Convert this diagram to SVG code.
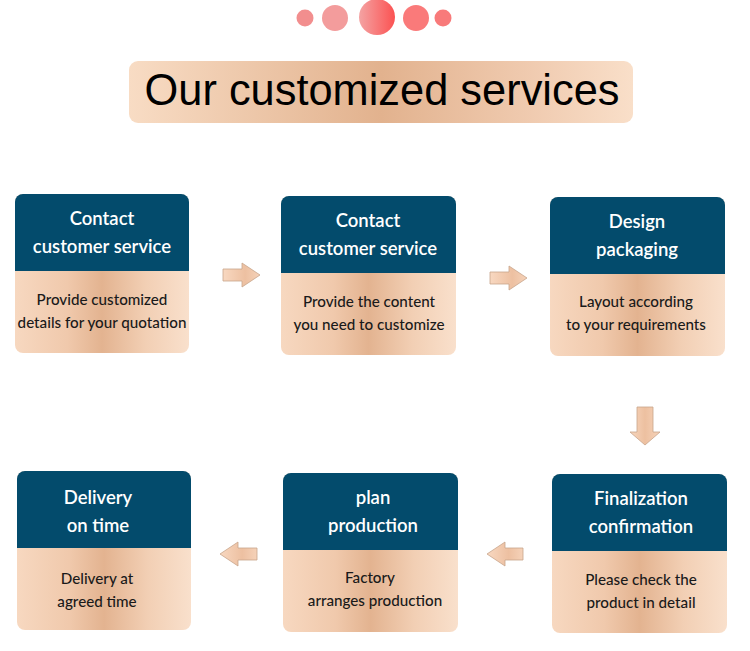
<svg xmlns="http://www.w3.org/2000/svg" width="750" height="651" viewBox="0 0 750 651">
<defs>
<linearGradient id="peach" x1="0" y1="0" x2="1" y2="0">
<stop offset="0" stop-color="#f7d8c0"/>
<stop offset="0.3" stop-color="#f0c9ac"/>
<stop offset="0.5" stop-color="#e3b390"/>
<stop offset="0.75" stop-color="#f2cfb4"/>
<stop offset="1" stop-color="#f9e0cc"/>
</linearGradient>
<linearGradient id="titleg" x1="0" y1="0" x2="1" y2="0">
<stop offset="0" stop-color="#f8dcc4"/>
<stop offset="0.5" stop-color="#e2b28e"/>
<stop offset="0.8" stop-color="#f0cbb0"/>
<stop offset="1" stop-color="#f9dfc9"/>
</linearGradient>
<linearGradient id="arrowg" x1="0" y1="0" x2="1" y2="0">
<stop offset="0" stop-color="#f8d8c1"/>
<stop offset="0.6" stop-color="#edc0a1"/>
<stop offset="1" stop-color="#f5d2b9"/>
</linearGradient>
<linearGradient id="arrowv" x1="0" y1="0" x2="1" y2="0">
<stop offset="0" stop-color="#f7d6be"/>
<stop offset="0.5" stop-color="#edc0a0"/>
<stop offset="1" stop-color="#f6d3ba"/>
</linearGradient>
<linearGradient id="dotbig" x1="0" y1="0" x2="1" y2="0">
<stop offset="0" stop-color="#f4a3a3"/>
<stop offset="1" stop-color="#fb5252"/>
</linearGradient>
<style>
.hdr{fill:#034b6c}
.body{fill:url(#peach)}
.ht{font-family:Lato,"Open Sans",sans-serif;font-size:18.5px;fill:#ffffff;text-anchor:middle;font-weight:600}
.bt{font-family:Lato,"Open Sans",sans-serif;font-size:15.2px;fill:#1a1a1a;text-anchor:middle;font-weight:500}
.arr{fill:url(#arrowg);stroke:#c8a48c;stroke-width:0.8}
.arrv{fill:url(#arrowv);stroke:#c8a48c;stroke-width:0.8}
</style>
</defs>
<rect width="750" height="651" fill="#ffffff"/>

<g id="dots">
<circle cx="305" cy="18" r="8.5" fill="#f28e8e"/>
<circle cx="335" cy="18" r="13" fill="#f39c9c"/>
<circle cx="377" cy="17" r="18" fill="url(#dotbig)"/>
<circle cx="416" cy="18" r="13" fill="#fa7a7a"/>
<circle cx="443" cy="18" r="8.5" fill="#f87a7a"/>
</g>

<g id="title">
<rect x="129" y="61" width="504" height="62" rx="9" fill="url(#titleg)"/>
<text x="382" y="105" font-family="Liberation Sans,Arial,sans-serif" font-size="45" fill="#000" text-anchor="middle" textLength="475" lengthAdjust="spacingAndGlyphs">Our customized services</text>
</g>

<g id="node1">
<rect x="15" y="194" width="174" height="159" rx="8" class="body"/>
<path d="M15 271 V202 A8 8 0 0 1 23 194 H181 A8 8 0 0 1 189 202 V271 Z" class="hdr"/>
<text x="102" y="225" class="ht">Contact</text>
<text x="102" y="253" class="ht">customer service</text>
<text x="102" y="305" class="bt">Provide customized</text>
<text x="102" y="328" class="bt">details for your quotation</text>
</g>

<g id="node2">
<rect x="281" y="196" width="175" height="159" rx="8" class="body"/>
<path d="M281 273 V204 A8 8 0 0 1 289 196 H448 A8 8 0 0 1 456 204 V273 Z" class="hdr"/>
<text x="368" y="227" class="ht">Contact</text>
<text x="368" y="255" class="ht">customer service</text>
<text x="369" y="307" class="bt">Provide the content</text>
<text x="369" y="330" class="bt">you need to customize</text>
</g>

<g id="node3">
<rect x="550" y="197" width="175" height="159" rx="8" class="body"/>
<path d="M550 274 V205 A8 8 0 0 1 558 197 H717 A8 8 0 0 1 725 205 V274 Z" class="hdr"/>
<text x="637" y="228" class="ht">Design</text>
<text x="637" y="256" class="ht">packaging</text>
<text x="636" y="307" class="bt">Layout according</text>
<text x="636" y="330" class="bt">to your requirements</text>
</g>

<g id="node4">
<rect x="17" y="471" width="174" height="159" rx="8" class="body"/>
<path d="M17 548 V479 A8 8 0 0 1 25 471 H183 A8 8 0 0 1 191 479 V548 Z" class="hdr"/>
<text x="98" y="504" class="ht">Delivery</text>
<text x="98" y="532" class="ht">on time</text>
<text x="97" y="584" class="bt">Delivery at</text>
<text x="97" y="607" class="bt">agreed time</text>
</g>

<g id="node5">
<rect x="283" y="473" width="175" height="159" rx="8" class="body"/>
<path d="M283 550 V481 A8 8 0 0 1 291 473 H450 A8 8 0 0 1 458 481 V550 Z" class="hdr"/>
<text x="373" y="504" class="ht">plan</text>
<text x="373" y="532" class="ht">production</text>
<text x="370" y="583" class="bt">Factory</text>
<text x="375" y="606" class="bt">arranges production</text>
</g>

<g id="node6">
<rect x="552" y="474" width="175" height="159" rx="8" class="body"/>
<path d="M552 551 V482 A8 8 0 0 1 560 474 H719 A8 8 0 0 1 727 482 V551 Z" class="hdr"/>
<text x="641" y="505" class="ht">Finalization</text>
<text x="641" y="533" class="ht">confirmation</text>
<text x="641" y="585" class="bt">Please check the</text>
<text x="641" y="608" class="bt">product in detail</text>
</g>

<g id="connectors">
<path class="arr" d="M223 269 H242 V263 L260 275 L242 287 V281 H223 Z"/>
<path class="arr" d="M490 272 H509 V266 L527 278 L509 290 V284 H490 Z"/>
<path class="arrv" d="M637 407 H653 V432 H660 L645 445 L630 432 H637 Z"/>
<path class="arr" d="M257 548 H238 V542 L220 554 L238 566 V560 H257 Z"/>
<path class="arr" d="M523 548 H505 V542 L487 554 L505 566 V560 H523 Z"/>
</g>
</svg>
